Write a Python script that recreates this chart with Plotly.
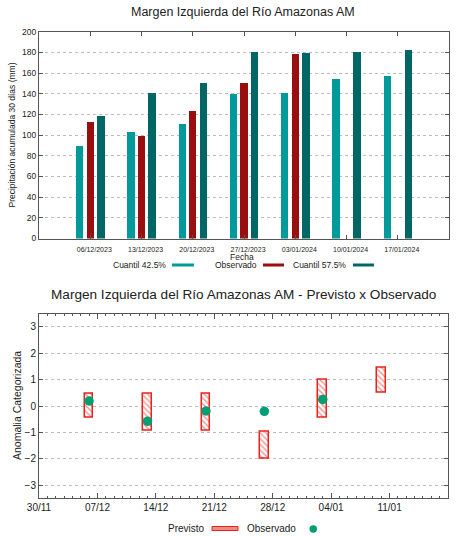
import plotly.graph_objects as go

# ---- Precipitación acumulada (mm) por semana ----
fechas = ["06/12/2023", "13/12/2023", "20/12/2023", "27/12/2023",
          "03/01/2024", "10/01/2024", "17/01/2024"]
cuantil_425 = [90, 103.5, 111, 140, 141, 154.5, 157.5]
observado_mm = [112.5, 99, 123.5, 150.5, 178.5, None, None]
cuantil_575 = [118.5, 141, 150.5, 181, 179.5, 180.5, 183]

# ---- Anomalía categorizada: previsto (rango) x observado ----
semanas = ["2023-12-06", "2023-12-13", "2023-12-20", "2023-12-27",
           "2024-01-03", "2024-01-10"]
previsto_min = [-0.44, -0.95, -0.95, -1.98, -0.44, 0.50]
previsto_max = [0.47, 0.47, 0.47, -0.98, 0.98, 1.45]
obs_fechas = ["2023-12-06", "2023-12-13", "2023-12-20", "2023-12-27", "2024-01-03"]
obs_anomalia = [0.19, -0.58, -0.19, -0.20, 0.25]

W, H = 456, 536
FONT = "Liberation Sans, Arial, sans-serif"
C_CYAN, C_RED, C_TEAL = "#009a9a", "#990e0e", "#006666"
C_BOX, C_DOT = "#e8231c", "#009e73"
AXC, GRID = "#555555", "#bdbdbd"
RANGO_X2 = ["2023-11-30", "2024-01-18"]
DIA = 86400000


def px(x):
    return x / W


def py(y):
    return 1 - y / H


fig = go.Figure()

# grouped bars (upper panel)
bw = 0.146
for vals, col, off in [(cuantil_425, C_CYAN, -0.278),
                       (observado_mm, C_RED, -0.073),
                       (cuantil_575, C_TEAL, 0.132)]:
    fig.add_trace(go.Bar(x=fechas, y=vals, width=bw, offset=off,
                         marker=dict(color=col, line=dict(width=0)),
                         xaxis="x", yaxis="y", showlegend=False))

# forecast ranges (lower panel)
rango = [hi - lo for lo, hi in zip(previsto_min, previsto_max)]
fig.add_trace(go.Bar(
    x=semanas, y=rango, base=previsto_min, width=DIA * 1.05,
    marker=dict(color="white", line=dict(color=C_BOX, width=1.5),
                pattern=dict(shape="\\", fgcolor=C_BOX, bgcolor="white",
                             size=4, solidity=0.35)),
    xaxis="x2", yaxis="y2", showlegend=False))

fig.add_trace(go.Scatter(
    x=obs_fechas, y=obs_anomalia, mode="markers",
    marker=dict(color=C_DOT, size=9.5),
    xaxis="x2", yaxis="y2", showlegend=False))

# invisible trace so the mirrored top date axis gets drawn
fig.add_trace(go.Scatter(x=RANGO_X2, y=[None, None], mode="markers",
                         xaxis="x3", yaxis="y2", showlegend=False,
                         hoverinfo="skip"))

common_axis = dict(showline=True, linecolor=AXC, linewidth=1, mirror="ticks",
                   ticks="inside", tickcolor=AXC, zeroline=False,
                   automargin=False,
                   tickfont=dict(family=FONT, color="#222"))

date_ticks = dict(type="date", range=RANGO_X2, tick0=RANGO_X2[0],
                  dtick=7 * DIA, ticklen=5, showgrid=False,
                  minor=dict(dtick=DIA, ticks="inside", ticklen=2,
                             tickcolor=AXC, showgrid=False))

fig.update_layout(
    width=W, height=H, margin=dict(l=0, r=0, t=0, b=0, autoexpand=False),
    paper_bgcolor="white", plot_bgcolor="white",
    barmode="overlay", bargap=0,
    font=dict(family=FONT, color="#222"),
    xaxis=dict(common_axis, domain=[px(39), px(449)], anchor="y",
               type="category", range=[-1, 7], showgrid=False,
               ticklen=4, tickfont=dict(family=FONT, size=7, color="#222"),
               ticklabelshift=4, ticklabelstandoff=4),
    yaxis=dict(common_axis, domain=[py(238.5), py(31.7)], anchor="x",
               range=[0, 200], dtick=20, ticklen=4,
               showgrid=True, gridcolor=GRID, griddash="dot", gridwidth=1,
               tickfont=dict(family=FONT, size=8.5, color="#222")),
    xaxis2=dict(common_axis, domain=[px(39), px(448)], anchor="y2",
                tickformat="%d/%m",
                tickfont=dict(family=FONT, size=10, color="#222"),
                **date_ticks),
    xaxis3=dict(overlaying="x2", side="top", anchor="y2", showline=False,
                ticks="inside", tickcolor=AXC, showticklabels=False,
                automargin=False, zeroline=False, **date_ticks),
    yaxis2=dict(common_axis, domain=[py(498.3), py(313.7)], anchor="x2",
                range=[-3.5, 3.5], dtick=1, ticklen=4,
                showgrid=True, gridcolor=GRID, griddash="dot", gridwidth=1,
                tickfont=dict(family=FONT, size=10, color="#222")),
)

ann = []
ann.append(dict(text="Margen Izquierda del Río Amazonas AM", x=px(243.5), y=py(12.5),
                font=dict(size=12.5)))
ann.append(dict(text="Margen Izquierda del Río Amazonas AM - Previsto x Observado",
                x=px(243), y=py(294), font=dict(size=13.6)))
ann.append(dict(text="Precipitación acumulada 30 días (mm)", x=px(11.5), y=py(135),
                textangle=-90, font=dict(size=8.5)))
ann.append(dict(text="Anomalia Categorizada", x=px(17), y=py(406),
                textangle=-90, font=dict(size=10.5)))
ann.append(dict(text="Fecha", x=px(242), y=py(256.5), font=dict(size=8.5)))

# upper legend: label then colour sample
for label, xr, x0, x1, col in [("Cuantil 42.5%", 168, 172, 194, C_CYAN),
                               ("Observado", 259, 263, 284, C_RED),
                               ("Cuantil 57.5%", 348, 353, 374, C_TEAL)]:
    ann.append(dict(text=label, x=px(xr), y=py(265), xanchor="right",
                    font=dict(size=8.5)))
    fig.add_shape(type="rect", xref="paper", yref="paper",
                  x0=px(x0), x1=px(x1), y0=py(266.5), y1=py(263.5),
                  fillcolor=col, line=dict(width=0))

# lower legend
ann.append(dict(text="Previsto", x=px(207), y=py(528), xanchor="right",
                font=dict(size=10)))
fig.add_shape(type="rect", xref="paper", yref="paper",
              x0=px(212), x1=px(238), y0=py(530.5), y1=py(526.5),
              fillcolor="#f08a84", line=dict(color=C_BOX, width=1))
ann.append(dict(text="Observado", x=px(245), y=py(528), xanchor="left",
                font=dict(size=10)))
fig.add_shape(type="circle", xref="paper", yref="paper",
              x0=px(309.5), x1=px(317), y0=py(532.7), y1=py(525.3),
              fillcolor=C_DOT, line=dict(width=0))

for a in ann:
    a.setdefault("xanchor", "center")
    a.update(xref="paper", yref="paper", showarrow=False, yanchor="middle")
    a["font"] = dict(family=FONT, color="#222", **a["font"])
fig.update_layout(annotations=ann)

fig.write_html("out.html")
